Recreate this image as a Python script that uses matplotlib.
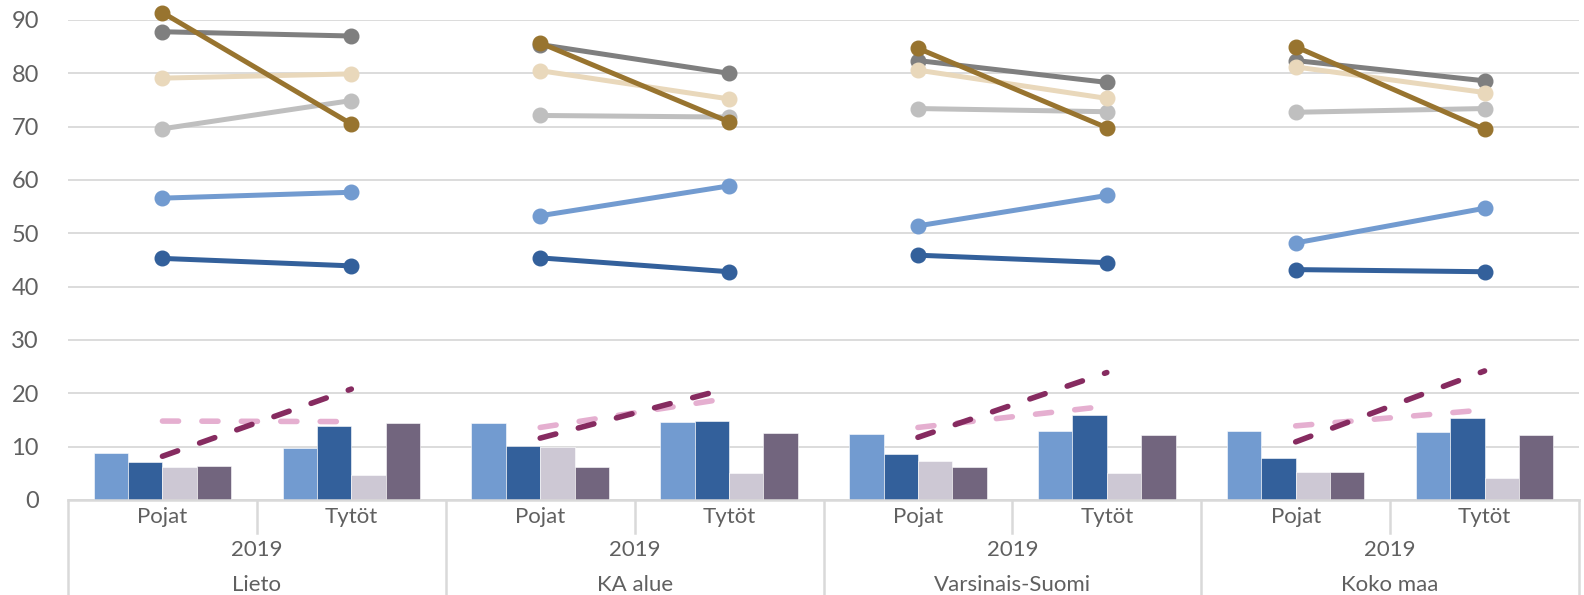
import matplotlib.pyplot as plt

regions = ['Lieto', 'KA alue', 'Varsinais-Suomi', 'Koko maa']
genders = ['Pojat', 'Tytöt']
year = '2019'

# order: Lieto P, Lieto T, KA P, KA T, VS P, VS T, KM P, KM T
brown = [91.4, 70.5, 85.7, 70.9, 84.7, 69.8, 85.0, 69.5]
dark_gray = [87.8, 87.0, 85.4, 80.0, 82.4, 78.3, 82.4, 78.6]
beige = [79.1, 79.9, 80.5, 75.2, 80.6, 75.3, 81.2, 76.4]
light_gray = [69.6, 74.9, 72.1, 71.8, 73.4, 72.8, 72.7, 73.4]
light_blue = [56.6, 57.7, 53.3, 58.9, 51.4, 57.1, 48.2, 54.7]
dark_blue = [45.3, 43.9, 45.4, 42.8, 45.9, 44.5, 43.2, 42.8]

bar_a = [8.9, 9.8, 14.5, 14.6, 12.4, 12.9, 12.9, 12.75]
bar_b = [7.2, 13.9, 10.1, 14.9, 8.6, 15.9, 7.9, 15.3]
bar_c = [6.2, 4.7, 10.0, 5.0, 7.4, 5.1, 5.2, 4.2]
bar_d = [6.4, 14.4, 6.1, 12.6, 6.1, 12.1, 5.3, 12.2]

magenta = [8.2, 20.8, 11.6, 21.0, 11.75, 23.9, 10.9, 24.2]
pink = [14.8, 14.7, 13.6, 19.1, 13.6, 17.6, 13.9, 16.9]

plt.rcParams['font.family'] = ['Lato', 'DejaVu Sans']
txt = '#606060'
grid = '#d9d9d9'

fig = plt.figure(figsize=(15.84, 5.95), dpi=100)
ax = fig.add_axes([68 / 1584, 1 - 500 / 595, 1511 / 1584, 480 / 595])

x = list(range(8))
w = 0.182
bars = [(bar_a, '#729bd0'), (bar_b, '#33609b'), (bar_c, '#cdc8d4'), (bar_d, '#72657e')]
for i, (vals, col) in enumerate(bars):
    ax.bar([xi + (i - 1.5) * w for xi in x], vals, w, color=col,
           edgecolor='white', linewidth=0.4, zorder=2)

for vals, col in [(pink, '#e5afd0'), (magenta, '#862b60')]:
    for g in range(4):
        ax.plot(x[2*g:2*g+2], vals[2*g:2*g+2], color=col, lw=4,
                dashes=(2.9, 4.2), dash_capstyle='round', zorder=3)

series = [(dark_blue, '#33609b'), (light_blue, '#729bd0'), (light_gray, '#bfbfbf'),
          (dark_gray, '#7f7f7f'), (beige, '#e9d8bb'), (brown, '#98742f')]
for vals, col in series:
    for g in range(4):
        ax.plot(x[2*g:2*g+2], vals[2*g:2*g+2], color=col, lw=3.6,
                marker='o', ms=10.5, zorder=4, clip_on=False)

ax.set_xlim(-0.5, 7.5)
ax.set_ylim(0, 90)
ax.set_yticks(range(0, 91, 10))
ax.yaxis.grid(True, color=grid, lw=1.3)
ax.set_axisbelow(True)
for s in ['top', 'right', 'left']:
    ax.spines[s].set_visible(False)
ax.spines['bottom'].set_color(grid)
ax.spines['bottom'].set_linewidth(1.8)
ax.tick_params(axis='y', length=0, pad=21, labelsize=17, labelcolor=txt)
ax.tick_params(axis='x', length=0)
ax.set_xticks([])

tr = ax.get_xaxis_transform()
for g, reg in enumerate(regions):
    for k, gen in enumerate(genders):
        ax.text(2*g + k, -17 / 480, gen, transform=tr, ha='center', va='center',
                fontsize=16, color=txt)
    ax.text(2*g + 0.5, -50 / 480, year, transform=tr, ha='center', va='center',
            fontsize=16, color=txt)
    ax.text(2*g + 0.5, -85 / 480, reg, transform=tr, ha='center', va='center',
            fontsize=16, color=txt)
    ax.plot([2*g + 0.5, 2*g + 0.5], [0, -33 / 480], transform=tr, color=grid,
            lw=1.8, clip_on=False)
for b in [-0.5, 1.5, 3.5, 5.5, 7.5]:
    ax.plot([b, b], [0, -100 / 480], transform=tr, color=grid, lw=1.8, clip_on=False)

fig.savefig('out.png', dpi=100)
